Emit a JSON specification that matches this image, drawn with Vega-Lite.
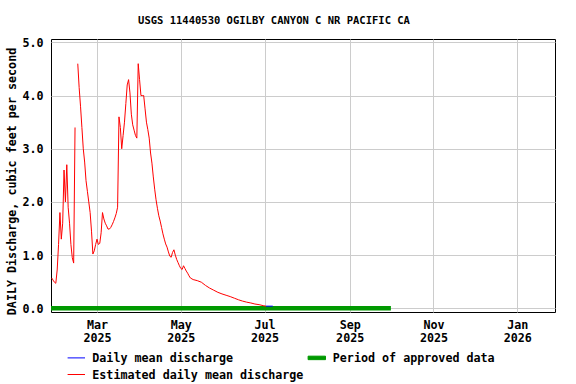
{
  "$schema": "https://vega.github.io/schema/vega-lite/v6.json",
  "width": 504,
  "height": 273,
  "autosize": {"type": "none"},
  "padding": {"left": 51, "top": 39, "right": 21, "bottom": 72},
  "background": "white",
  "title": {
    "text": "USGS 11440530 OGILBY CANYON C NR PACIFIC CA",
    "font": "DejaVu Sans Mono",
    "fontSize": 10.5,
    "fontWeight": "bold",
    "color": "black",
    "anchor": "middle",
    "frame": "group",
    "baseline": "alphabetic",
    "dx": -29,
    "offset": 3
  },
  "config": {
    "view": {"stroke": "black", "strokeWidth": 1},
    "axis": {
      "domain": false,
      "ticks": false,
      "gridColor": "#cccccc",
      "gridWidth": 1,
      "gridOpacity": 1,
      "labelFont": "DejaVu Sans Mono",
      "labelFontSize": 11.7,
      "labelFontWeight": "bold",
      "labelColor": "black",
      "titleFont": "DejaVu Sans Mono",
      "titleFontSize": 11.7,
      "titleFontWeight": "bold",
      "titleColor": "black"
    },
    "legend": {
      "labelFont": "DejaVu Sans Mono",
      "labelFontSize": 11.7,
      "labelFontWeight": "bold",
      "labelColor": "black",
      "labelLimit": 400
    }
  },
  "datasets": {
    "estimated": [
      {"date": "2025-01-27", "value": 0.57},
      {"date": "2025-01-28", "value": 0.53},
      {"date": "2025-01-29", "value": 0.49},
      {"date": "2025-01-30", "value": 0.47},
      {"date": "2025-01-31", "value": 0.72},
      {"date": "2025-02-01", "value": 1.2},
      {"date": "2025-02-02", "value": 1.8},
      {"date": "2025-02-03", "value": 1.3},
      {"date": "2025-02-04", "value": 1.6},
      {"date": "2025-02-05", "value": 2.6},
      {"date": "2025-02-06", "value": 2.0},
      {"date": "2025-02-07", "value": 2.7},
      {"date": "2025-02-08", "value": 1.9},
      {"date": "2025-02-09", "value": 1.6},
      {"date": "2025-02-10", "value": 1.2},
      {"date": "2025-02-11", "value": 0.95},
      {"date": "2025-02-12", "value": 0.85},
      {"date": "2025-02-13", "value": 3.4},
      {"date": "2025-02-14", "value": null},
      {"date": "2025-02-15", "value": 4.6},
      {"date": "2025-02-16", "value": 4.15},
      {"date": "2025-02-17", "value": 3.8},
      {"date": "2025-02-18", "value": 3.4},
      {"date": "2025-02-19", "value": 3.0},
      {"date": "2025-02-20", "value": 2.75},
      {"date": "2025-02-21", "value": 2.4},
      {"date": "2025-02-22", "value": 2.2},
      {"date": "2025-02-23", "value": 2.0},
      {"date": "2025-02-24", "value": 1.8},
      {"date": "2025-02-25", "value": 1.45},
      {"date": "2025-02-26", "value": 1.02},
      {"date": "2025-02-27", "value": 1.08},
      {"date": "2025-02-28", "value": 1.2},
      {"date": "2025-03-01", "value": 1.3},
      {"date": "2025-03-02", "value": 1.2},
      {"date": "2025-03-03", "value": 1.22},
      {"date": "2025-03-04", "value": 1.42},
      {"date": "2025-03-05", "value": 1.8},
      {"date": "2025-03-06", "value": 1.68},
      {"date": "2025-03-07", "value": 1.6},
      {"date": "2025-03-08", "value": 1.55},
      {"date": "2025-03-09", "value": 1.49},
      {"date": "2025-03-10", "value": 1.49},
      {"date": "2025-03-11", "value": 1.52},
      {"date": "2025-03-12", "value": 1.57},
      {"date": "2025-03-13", "value": 1.63},
      {"date": "2025-03-14", "value": 1.7},
      {"date": "2025-03-15", "value": 1.78},
      {"date": "2025-03-16", "value": 1.9},
      {"date": "2025-03-17", "value": 3.6},
      {"date": "2025-03-18", "value": 3.4},
      {"date": "2025-03-19", "value": 3.0},
      {"date": "2025-03-20", "value": 3.25},
      {"date": "2025-03-21", "value": 3.5},
      {"date": "2025-03-22", "value": 3.85},
      {"date": "2025-03-23", "value": 4.2},
      {"date": "2025-03-24", "value": 4.3},
      {"date": "2025-03-25", "value": 4.05},
      {"date": "2025-03-26", "value": 3.65},
      {"date": "2025-03-27", "value": 3.45},
      {"date": "2025-03-28", "value": 3.35},
      {"date": "2025-03-29", "value": 3.25},
      {"date": "2025-03-30", "value": 3.2},
      {"date": "2025-03-31", "value": 4.6},
      {"date": "2025-04-01", "value": 4.3},
      {"date": "2025-04-02", "value": 4.0},
      {"date": "2025-04-03", "value": 4.0},
      {"date": "2025-04-04", "value": 4.0},
      {"date": "2025-04-05", "value": 3.75},
      {"date": "2025-04-06", "value": 3.5},
      {"date": "2025-04-07", "value": 3.36},
      {"date": "2025-04-08", "value": 3.2},
      {"date": "2025-04-09", "value": 2.92},
      {"date": "2025-04-10", "value": 2.73},
      {"date": "2025-04-11", "value": 2.47},
      {"date": "2025-04-12", "value": 2.24},
      {"date": "2025-04-13", "value": 2.04},
      {"date": "2025-04-14", "value": 1.88},
      {"date": "2025-04-15", "value": 1.74},
      {"date": "2025-04-16", "value": 1.64},
      {"date": "2025-04-17", "value": 1.52},
      {"date": "2025-04-18", "value": 1.4},
      {"date": "2025-04-19", "value": 1.3},
      {"date": "2025-04-20", "value": 1.21},
      {"date": "2025-04-21", "value": 1.15},
      {"date": "2025-04-22", "value": 1.06},
      {"date": "2025-04-23", "value": 0.98},
      {"date": "2025-04-24", "value": 0.96},
      {"date": "2025-04-25", "value": 1.05},
      {"date": "2025-04-26", "value": 1.1},
      {"date": "2025-04-27", "value": 1.0},
      {"date": "2025-04-28", "value": 0.92},
      {"date": "2025-04-29", "value": 0.86},
      {"date": "2025-04-30", "value": 0.8},
      {"date": "2025-05-01", "value": 0.75},
      {"date": "2025-05-02", "value": 0.73},
      {"date": "2025-05-03", "value": 0.8},
      {"date": "2025-05-04", "value": 0.75},
      {"date": "2025-05-05", "value": 0.7},
      {"date": "2025-05-06", "value": 0.66},
      {"date": "2025-05-07", "value": 0.61},
      {"date": "2025-05-08", "value": 0.57},
      {"date": "2025-05-10", "value": 0.54},
      {"date": "2025-05-13", "value": 0.52},
      {"date": "2025-05-16", "value": 0.49},
      {"date": "2025-05-19", "value": 0.43},
      {"date": "2025-05-22", "value": 0.38},
      {"date": "2025-05-25", "value": 0.34},
      {"date": "2025-05-28", "value": 0.3},
      {"date": "2025-05-31", "value": 0.27},
      {"date": "2025-06-03", "value": 0.245},
      {"date": "2025-06-06", "value": 0.22},
      {"date": "2025-06-09", "value": 0.19},
      {"date": "2025-06-12", "value": 0.16},
      {"date": "2025-06-15", "value": 0.135},
      {"date": "2025-06-18", "value": 0.115},
      {"date": "2025-06-21", "value": 0.1},
      {"date": "2025-06-24", "value": 0.08},
      {"date": "2025-06-27", "value": 0.068},
      {"date": "2025-06-30", "value": 0.05},
      {"date": "2025-07-02", "value": 0.04}
    ],
    "daily": [
      {"date": "2025-07-02", "value": 0.04},
      {"date": "2025-07-07", "value": 0.04}
    ],
    "approved": [
      {"date": "2025-01-26", "value": 0},
      {"date": "2025-10-01", "value": 0}
    ]
  },
  "encoding": {
    "x": {
      "field": "date",
      "type": "temporal",
      "title": null,
      "scale": {
        "type": "utc",
        "domain": [
          {"year": 2025, "month": 1, "date": 26, "hours": 12, "utc": true},
          {"year": 2026, "month": 1, "date": 28, "hours": 12, "utc": true}
        ]
      },
      "axis": {
        "values": [
          {"year": 2025, "month": 3, "date": 1, "utc": true},
          {"year": 2025, "month": 5, "date": 1, "utc": true},
          {"year": 2025, "month": 7, "date": 1, "utc": true},
          {"year": 2025, "month": 9, "date": 1, "utc": true},
          {"year": 2025, "month": 11, "date": 1, "utc": true},
          {"year": 2026, "month": 1, "date": 1, "utc": true}
        ],
        "labelExpr": "[utcFormat(datum.value, '%b'), utcFormat(datum.value, '%Y')]",
        "labelLineHeight": 13,
        "labelPadding": 7
      }
    },
    "y": {
      "field": "value",
      "type": "quantitative",
      "scale": {"domain": [-0.07, 5.064], "nice": false, "zero": false},
      "axis": {
        "values": [0, 1, 2, 3, 4, 5],
        "format": ".1f",
        "labelPadding": 8,
        "title": "DAILY Discharge, cubic feet per second",
        "titleAngle": -90,
        "titleAlign": "center",
        "titleBaseline": "alphabetic",
        "titleX": -36,
        "titleY": 142
      }
    },
    "color": {
      "field": "series",
      "type": "nominal",
      "scale": {
        "domain": ["Daily mean discharge", "Estimated daily mean discharge", "Period of approved data"],
        "range": ["#0000ff", "#ff0000", "#009900"]
      },
      "legend": {
        "title": null,
        "orient": "none",
        "legendX": 15.8,
        "legendY": 309,
        "columns": 2,
        "gridAlign": "all",
        "symbolType": "stroke",
        "symbolSize": 303,
        "symbolStrokeWidth": 1,
        "labelOffset": 6.5,
        "columnPadding": 1.5,
        "rowPadding": -3,
        "padding": 0,
        "encode": {
          "symbols": {
            "update": {
              "shape": {"signal": "datum.label === 'Period of approved data' ? 'M-1,-0.2H1V0.2H-1Z' : 'stroke'"},
              "fill": {"signal": "datum.label === 'Period of approved data' ? '#009900' : 'transparent'"}
            }
          }
        }
      }
    }
  },
  "layer": [
    {
      "data": {"name": "approved"},
      "transform": [{"calculate": "'Period of approved data'", "as": "series"}],
      "mark": {"type": "line", "strokeWidth": 4.5, "clip": true, "strokeCap": "butt"}
    },
    {
      "data": {"name": "estimated"},
      "transform": [{"calculate": "'Estimated daily mean discharge'", "as": "series"}],
      "mark": {"type": "line", "strokeWidth": 1, "clip": true, "invalid": "break-paths-filter-domains"}
    },
    {
      "data": {"name": "daily"},
      "transform": [{"calculate": "'Daily mean discharge'", "as": "series"}],
      "mark": {"type": "line", "strokeWidth": 1, "clip": true}
    }
  ]
}
